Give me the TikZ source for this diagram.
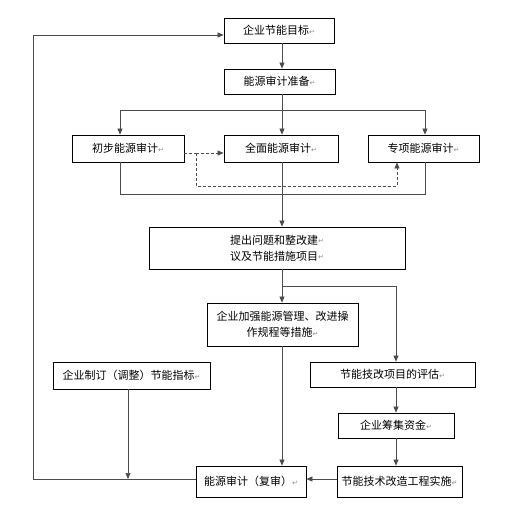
\documentclass[tikz,border=0pt]{standalone}
\usepackage{fontspec}
\setmainfont{Noto Sans CJK SC}
\newfontfamily\symfont{DejaVu Sans}
\usetikzlibrary{arrows.meta}
\newcommand{\parmk}{{\symfont\fontsize{7pt}{7pt}\selectfont\color{black!45}\raisebox{0.5pt}{↵}}}
\begin{document}
\begin{tikzpicture}[x=1pt,y=-1pt,
  box/.style={draw=black,line width=0.8pt,inner sep=0pt,align=center,font=\fontsize{11pt}{16pt}\selectfont},
  conn/.style={draw=black!70,line width=0.7pt},
  arr/.style={conn,-{Triangle[length=6pt,width=5pt]}},
  dsh/.style={conn,dashed,dash pattern=on 3pt off 2pt}]
\fill[white] (0,0) rectangle (532,523);
\useasboundingbox (0,0) rectangle (532,523);
\node[box,minimum width=110pt,minimum height=25pt] (b1) at (279,30.5) {企业节能目标\parmk};
\node[box,minimum width=111pt,minimum height=25pt] (b2) at (279.5,81.5) {能源审计准备\parmk};
\node[box,minimum width=112pt,minimum height=27pt] (b3) at (128,148.5) {初步能源审计\parmk};
\node[box,minimum width=114pt,minimum height=27pt] (b4) at (281,148.5) {全面能源审计\parmk};
\node[box,minimum width=111pt,minimum height=27pt] (b5) at (423.5,148.5) {专项能源审计\parmk};
\node[box,minimum width=256pt,minimum height=42pt] (b6) at (277,248) {提出问题和整改建\parmk\\议及节能措施项目\parmk};
\node[box,minimum width=151pt,minimum height=43pt] (b7) at (282.5,324.5) {企业加强能源管理、改进操\\作规程等措施\parmk};
\node[box,minimum width=157pt,minimum height=27pt] (b8) at (131.5,375.5) {企业制订（调整）节能指标\parmk};
\node[box,minimum width=165pt,minimum height=25pt] (b9) at (392.5,374.5) {节能技改项目的评估\parmk};
\node[box,minimum width=116pt,minimum height=25pt] (b10) at (396,425.5) {企业筹集资金\parmk};
\node[box,minimum width=125pt,minimum height=31pt] (b11) at (399.5,481.5) {节能技术改造工程实施\parmk};
\node[box,minimum width=110pt,minimum height=31pt] (b12) at (251,481.5) {能源审计（复审）\parmk};
% junction coordinates
\coordinate (sp) at (282,0);
\coordinate (br) at (282,110);
\coordinate (bl) at (120,110);
\coordinate (brr) at (425,110);
\coordinate (cl) at (120,194);
\coordinate (cr) at (425,194);
\coordinate (d1) at (196,153);
\coordinate (d2) at (196,186);
\coordinate (d3) at (397,186);
\coordinate (e1) at (282,286);
\coordinate (e2) at (396,286);
\coordinate (f1) at (128,479);
\coordinate (g1) at (33,479);
\coordinate (g2) at (33,35);
% spine
\draw[arr] (b1.south -| sp) -- (b2.north -| sp);
\draw[conn] (b2.south -| sp) -- (br);
\draw[conn] (bl) -- (brr);
\draw[arr] (bl) -- (b3.north -| bl);
\draw[arr] (br) -- (b4.north -| sp);
\draw[arr] (brr) -- (b5.north -| brr);
\draw[conn] (b3.south -| cl) -- (cl) -- (cr) -- (b5.south -| cr);
\draw[arr] (b4.south -| sp) -- (b6.north -| sp);
% dashed
\draw[dsh] (b3.east |- d1) -- (d1);
\draw[dsh,-{Triangle[length=6pt,width=5pt]}] (d1) -- (b4.west |- d1);
\draw[dsh,-{Triangle[length=6pt,width=5pt]}] (d1) -- (d2) -- (d3) -- (b5.south -| d3);
% lower
\draw[arr] (b6.south -| sp) -- (b7.north -| sp);
\draw[conn] (e1) -- (e2);
\draw[arr] (e2) -- (b9.north -| e2);
\draw[arr] (b9.south -| e2) -- (b10.north -| e2);
\draw[arr] (b10.south -| e2) -- (b11.north -| e2);
\draw[arr] (b11.west |- f1) -- (b12.east |- f1);
\draw[arr] (b7.south -| sp) -- (b12.north -| sp);
\draw[arr] (b8.south -| f1) -- (f1);
\draw[arr] (b12.west |- f1) -- (g1) -- (g2) -- (b1.west |- g2);
\end{tikzpicture}
\end{document}
